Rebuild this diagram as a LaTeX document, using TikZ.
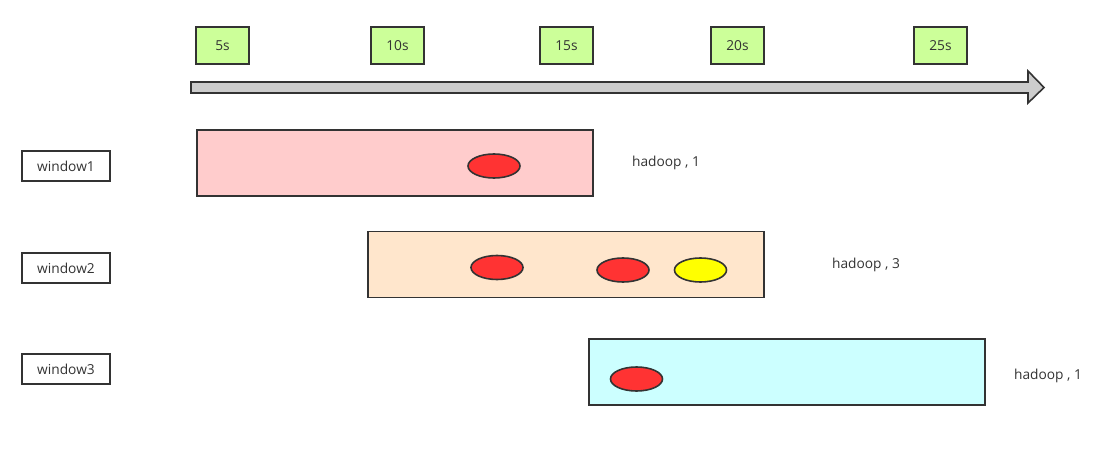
\documentclass[tikz,border=0pt]{standalone}
\usepackage{fontspec}
\setmainfont{Open Sans}
\usetikzlibrary{shapes.geometric}
\usepackage{xcolor}

\definecolor{edge}{HTML}{333333}
\definecolor{tickgreen}{HTML}{CCFF99}
\definecolor{arrowgray}{HTML}{CCCCCC}
\definecolor{winred}{HTML}{FFCCCC}
\definecolor{winorange}{HTML}{FFE6CC}
\definecolor{wincyan}{HTML}{CCFFFF}
\definecolor{eventred}{HTML}{FF3333}
\definecolor{eventyellow}{HTML}{FFFF00}

\tikzset{
  tickbox/.style={draw=edge, line width=1.2pt, fill=tickgreen, minimum width=39.75pt, minimum height=27.75pt, inner sep=0pt, font=\fontsize{10.3}{11}\selectfont, text=edge},
  labelbox/.style={draw=edge, line width=1.2pt, fill=white, minimum width=66pt, minimum height=22.5pt, inner sep=0pt, font=\fontsize{10.3}{11}\selectfont, text=edge},
  winbox/.style={draw=edge, line width=1.2pt, minimum width=297pt, minimum height=49.5pt, inner sep=0pt},
  event/.style={ellipse, draw=edge, line width=1.2pt, minimum width=39pt, minimum height=18pt, inner sep=0pt},
  count/.style={font=\fontsize{10.3}{11}\selectfont, text=edge}
}

\begin{document}
\begin{tikzpicture}[x=0.75pt, y=-0.75pt]
        \useasboundingbox (0,0) rectangle (1109,460);

        % Time axis
        \draw[draw=edge, line width=1.2pt, fill=arrowgray, line join=miter]
          (191,82) -- (1028,82) -- (1028,71) -- (1044,87.5) -- (1028,103) -- (1028,93) -- (191,93) -- cycle;

        % Time ticks
        \foreach \x/\t in {222.5/5, 397.5/10, 566.5/15, 737.5/20, 940.5/25}
        {
          \node[tickbox] (T\t) at (\x,45.5) {\t s};
        }

        % Window labels
        \foreach \y/\w in {166/1, 268/2, 369/3}
        {
          \node[labelbox] (L\w) at (66,\y) {window\w};
        }

        % Windows
        \node[winbox, fill=winred] (W1) at (395,163) {};
        \node[winbox, fill=winorange] (W2) at (566,264.5) {};
        \node[winbox, fill=wincyan] (W3) at (787,372) {};

        % Events
        \node[event, fill=eventred] (E1) at (494,166) {};
        \node[event, fill=eventred] (E2) at (497,267.5) {};
        \node[event, fill=eventred] (E3) at (623,270) {};
        \node[event, fill=eventyellow] (E4) at (700.5,270) {};
        \node[event, fill=eventred] (E5) at (636.5,379) {};

        % Counts
        \node[count] (C1) at (666,163) {hadoop , 1};
        \node[count] (C2) at (866,265) {hadoop , 3};
        \node[count] (C3) at (1048,376) {hadoop , 1};
    \end{tikzpicture}
\end{document}
